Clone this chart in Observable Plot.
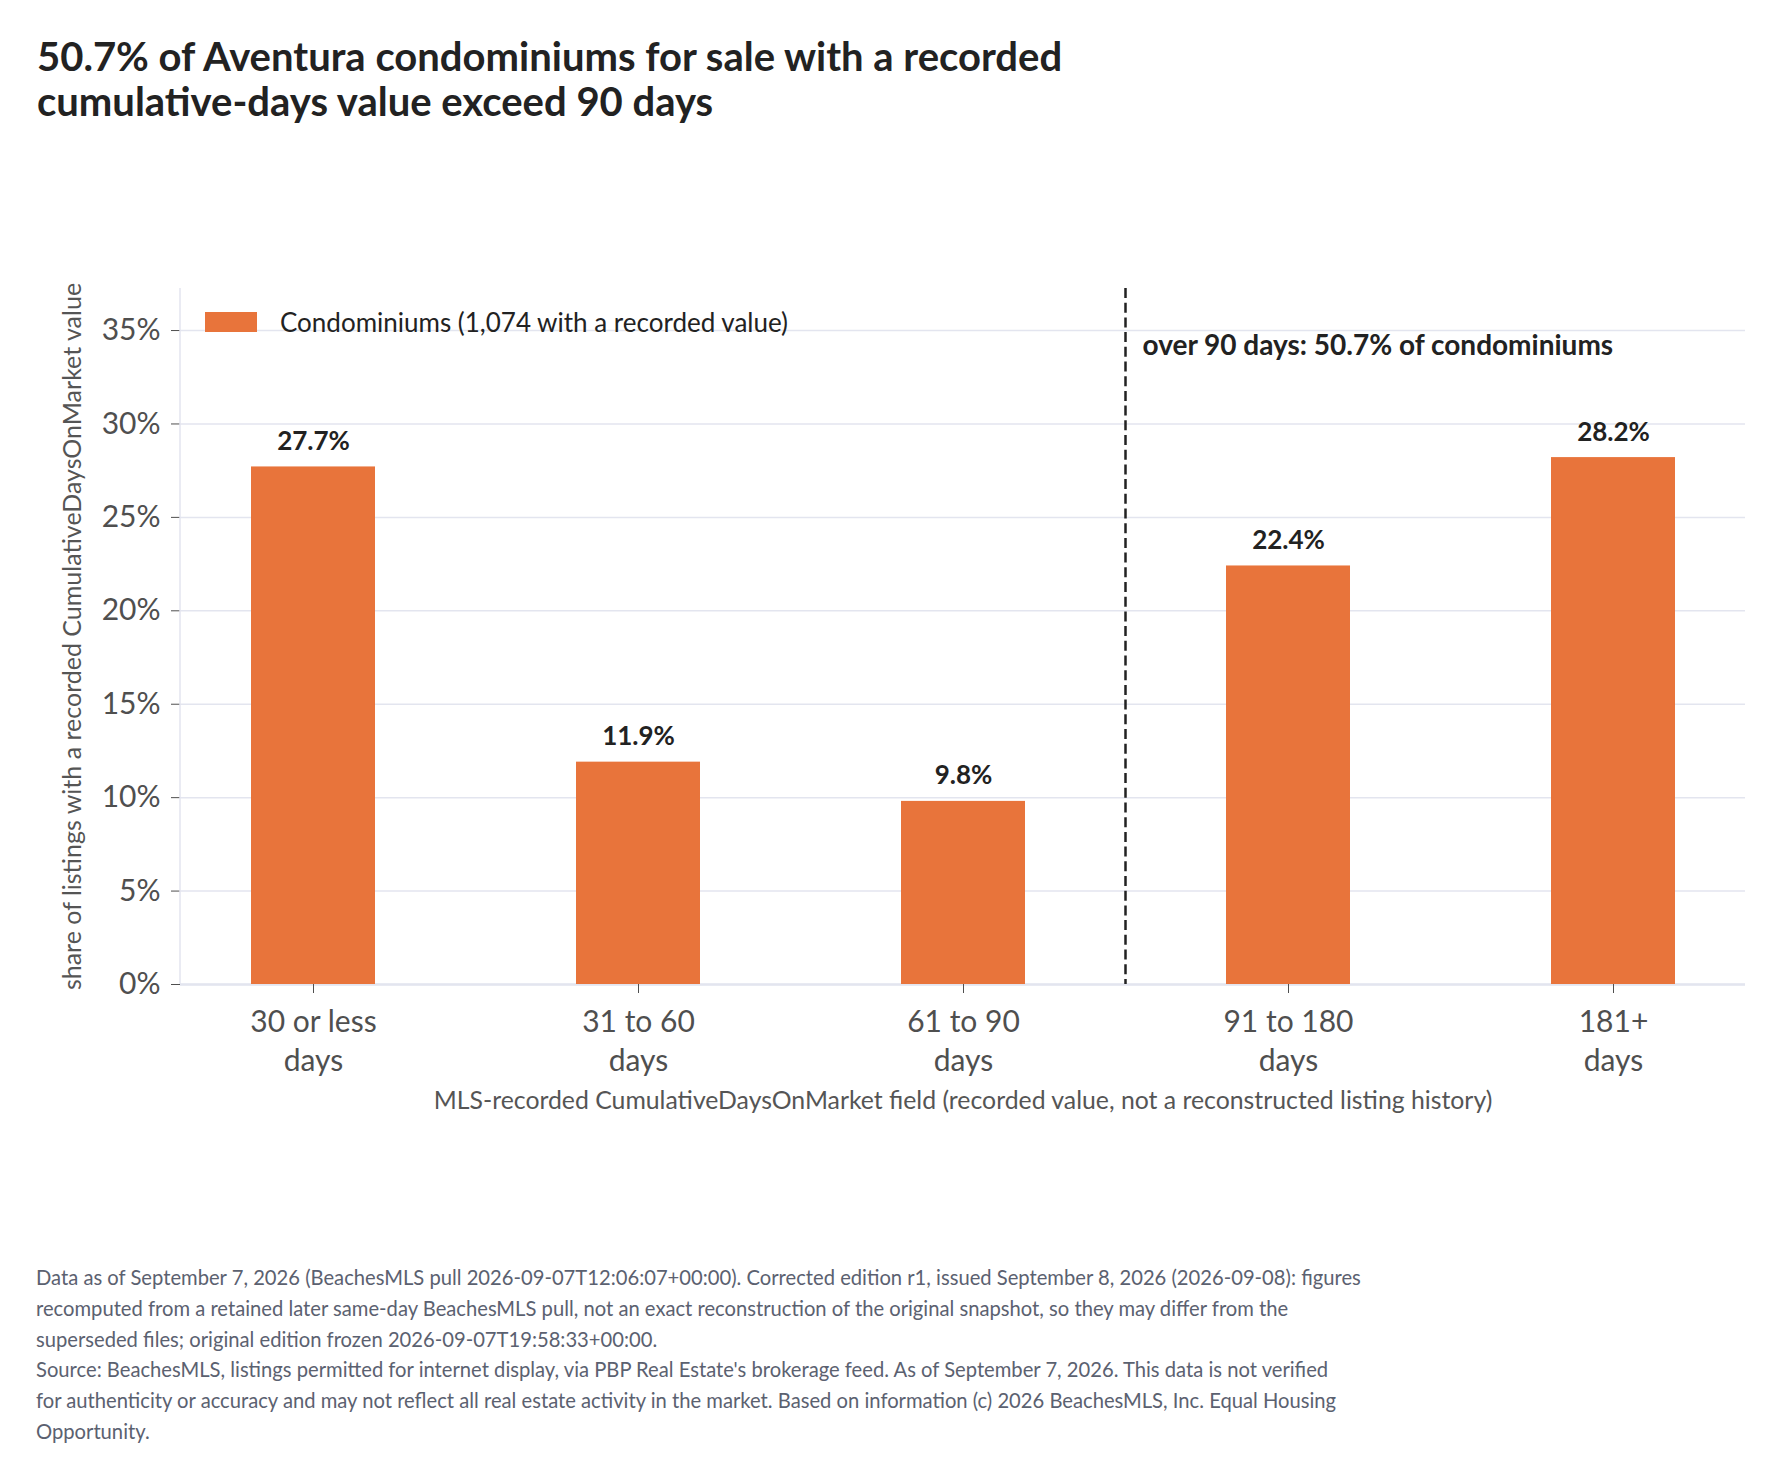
<!DOCTYPE html>
<html>
<head>
<meta charset="utf-8">
<script src="https://cdn.jsdelivr.net/npm/d3@7"></script>
<script src="https://cdn.jsdelivr.net/npm/@observablehq/plot@0.6"></script>
<style>
  html, body { margin: 0; padding: 0; background: #fff; }
  body { width: 1782px; height: 1477px; position: relative; font-family: Lato, "Noto Sans", sans-serif; }
  #title { position: absolute; left: 37px; top: 34px; font-size: 40px; font-weight: 700; line-height: 45px; color: #222; }
  #chart { position: absolute; left: 0; top: 130px; }
  #legend { position: absolute; left: 205px; top: 306px; display: flex; align-items: center; font-size: 26px; color: #222; }
  #legend .sw { width: 52px; height: 20px; margin-right: 23px; }
  #foot { position: absolute; left: 36px; top: 1262px; font-size: 20.2px; line-height: 30.8px; color: #5b6170; white-space: nowrap; }
</style>
</head>
<body>
<div id="title"></div>
<div id="chart"></div>
<div id="legend"><div class="sw"></div><span></span></div>
<div id="foot"></div>
<script>
// ---- data ----
const categories = ["30 or less days", "31 to 60 days", "61 to 90 days", "91 to 180 days", "181+ days"];
const shares = [27.7, 11.9, 9.8, 22.4, 28.2];
const yTicks = [0, 5, 10, 15, 20, 25, 30, 35];
const thresholdAfter = "61 to 90 days";
const thresholdBefore = "91 to 180 days";
const seriesName = "Condominiums (1,074 with a recorded value)";
const annotation = "over 90 days: 50.7% of condominiums";
const titleLines = ["50.7% of Aventura condominiums for sale with a recorded", "cumulative-days value exceed 90 days"];
const yLabel = "share of listings with a recorded CumulativeDaysOnMarket value";
const xLabel = "MLS-recorded CumulativeDaysOnMarket field (recorded value, not a reconstructed listing history)";
const footLines = [
  "Data as of September 7, 2026 (BeachesMLS pull 2026-09-07T12:06:07+00:00). Corrected edition r1, issued September 8, 2026 (2026-09-08): figures",
  "recomputed from a retained later same-day BeachesMLS pull, not an exact reconstruction of the original snapshot, so they may differ from the",
  "superseded files; original edition frozen 2026-09-07T19:58:33+00:00.",
  "Source: BeachesMLS, listings permitted for internet display, via PBP Real Estate's brokerage feed. As of September 7, 2026. This data is not verified",
  "for authenticity or accuracy and may not reflect all real estate activity in the market. Based on information (c) 2026 BeachesMLS, Inc. Equal Housing",
  "Opportunity."
];

const barColor = "#E8743B";
const gridColor = "#e3e5ef";
const data = categories.map((c, i) => ({cat: c, share: shares[i]}));

document.getElementById("title").innerHTML = titleLines.join("<br>");
document.querySelector("#legend .sw").style.background = barColor;
document.querySelector("#legend span").textContent = seriesName;
document.getElementById("foot").innerHTML = footLines.map(l => l.replace(/&/g,"&amp;").replace(/</g,"&lt;")).join("<br>");

const W = 1782, H = 1000, mT = 158, mB = 146, mL = 180, mR = 37;

const chart = Plot.plot({
  width: W,
  height: H,
  marginTop: mT,
  marginBottom: mB,
  marginLeft: mL,
  marginRight: mR,
  style: {fontFamily: "Lato, 'Noto Sans', sans-serif", background: "transparent", overflow: "visible"},
  x: {domain: categories, paddingInner: 0.62, paddingOuter: 0.2175, align: 0.5},
  y: {domain: [0, 37.25]},
  marks: [
    Plot.gridY(yTicks, {stroke: gridColor, strokeOpacity: 1, strokeWidth: 1.5}),
    Plot.ruleY([0], {stroke: gridColor, strokeWidth: 2.5}),
    Plot.barY(data, {x: "cat", y: "share", fill: barColor}),
    Plot.text(data, {x: "cat", y: "share", text: d => d.share.toFixed(1) + "%", lineAnchor: "bottom", dy: -17,
      fontWeight: 700, fontSize: 26, fill: "#222"}),
    Plot.axisY({ticks: yTicks, tickFormat: d => d + "%", tickSize: 9, tickPadding: 11, fontSize: 30, color: "#4f4f4f", label: null}),
    Plot.axisX({tickSize: 9, tickPadding: 11, fontSize: 30, lineHeight: 1.3, color: "#4f4f4f", label: null,
      tickFormat: d => d.replace(/ days$/, "\ndays")}),
    Plot.text([yLabel], {frameAnchor: "left", rotate: -90, lineAnchor: "top", textAnchor: "middle", dx: -117,
      fontSize: 25, fill: "#555"}),
    Plot.text([xLabel], {frameAnchor: "bottom", lineAnchor: "middle", dy: 117, fontSize: 24.8, fill: "#555"})
  ]
});
document.getElementById("chart").appendChild(chart);

// y-axis line, threshold divider and its annotation, placed with the chart's own x scale
const xs = chart.scale("x");
const mid = (xs.apply(thresholdAfter) + xs.bandwidth + xs.apply(thresholdBefore)) / 2;
const svg = d3.select(chart);
const g = svg.append("g");
g.append("line").attr("x1", mL).attr("x2", mL).attr("y1", mT).attr("y2", H - mB)
  .attr("stroke", gridColor).attr("stroke-width", 1.5);
g.append("line").attr("x1", mid).attr("x2", mid).attr("y1", mT).attr("y2", H - mB)
  .attr("stroke", "#222").attr("stroke-width", 2.5).attr("stroke-dasharray", "10,4.7");
g.append("text").attr("x", mid + 17).attr("y", mT + 60).attr("dominant-baseline", "middle")
  .attr("text-anchor", "start").attr("font-size", 28).attr("font-weight", 700).attr("fill", "#222")
  .text(annotation);
</script>
</body>
</html>
